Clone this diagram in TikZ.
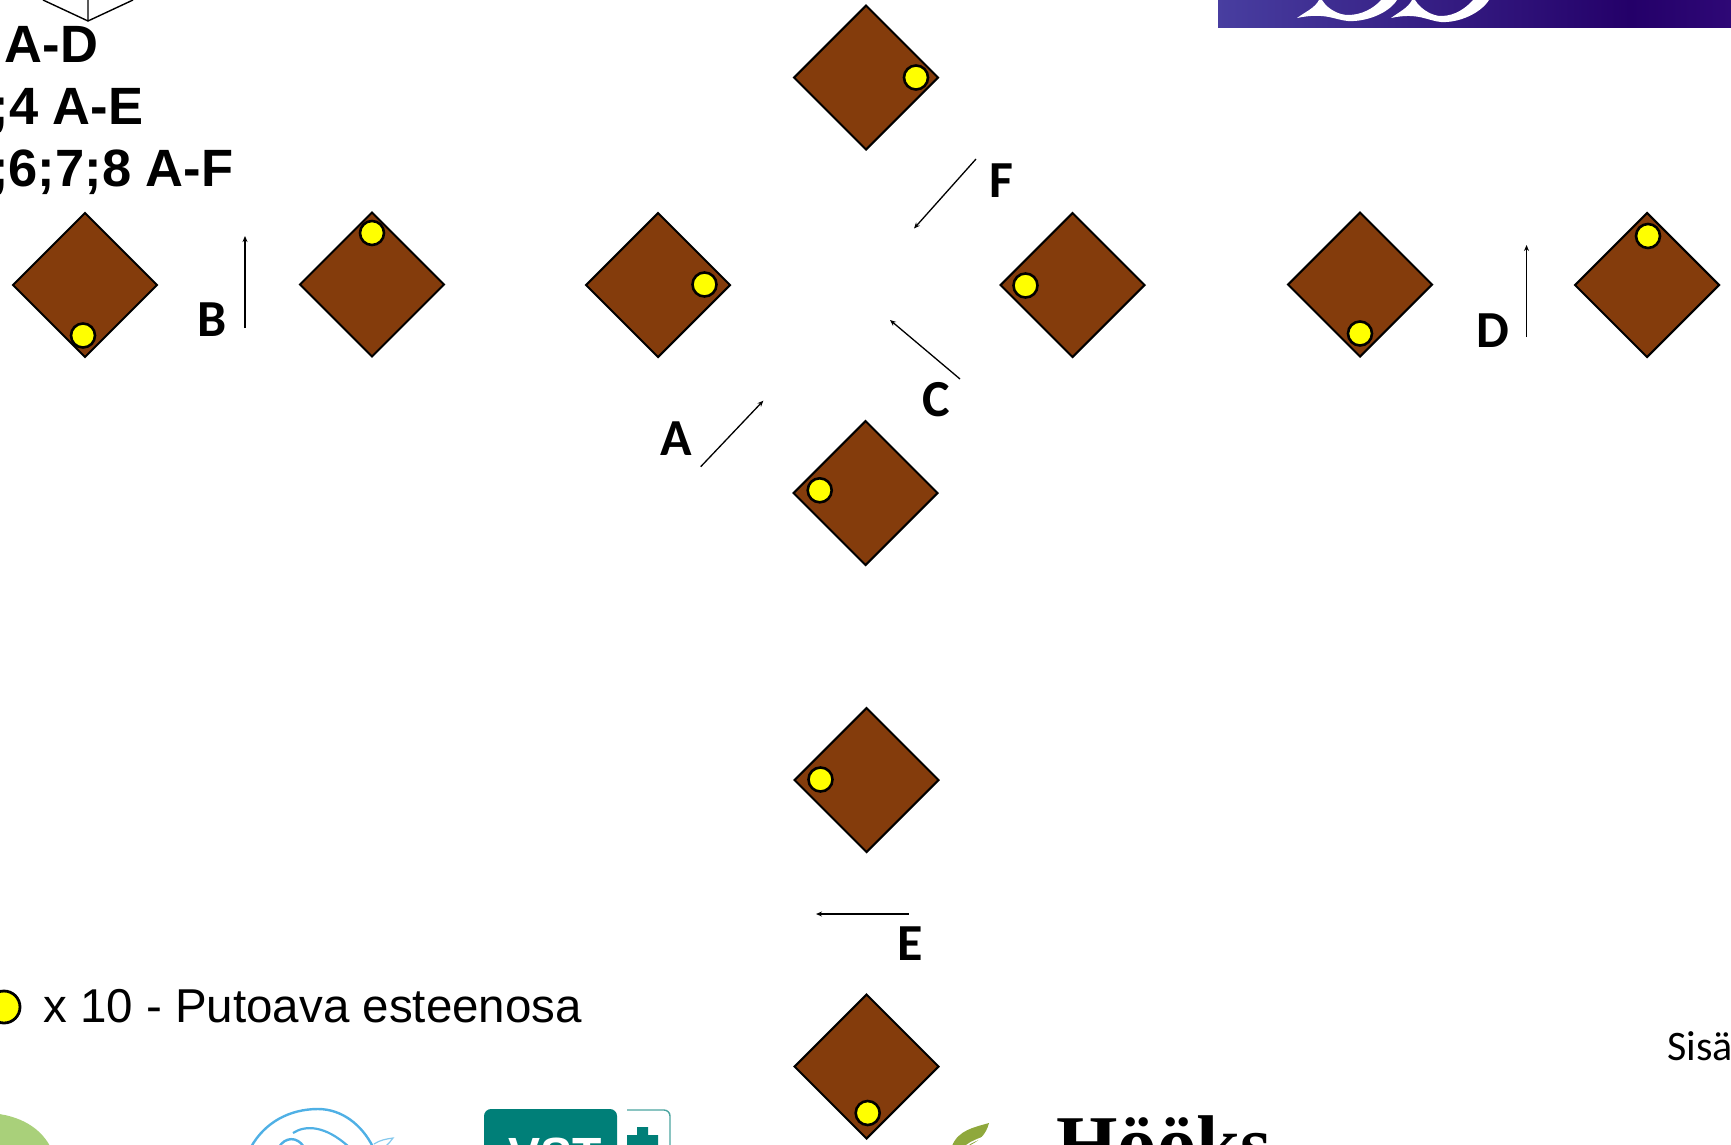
\documentclass[tikz,border=0pt]{standalone}
\usepackage{fontspec}
\setmainfont{Liberation Sans}
\newfontfamily\carlito{Carlito}
\newfontfamily\lserif{Liberation Serif}
\usetikzlibrary{arrows.meta}
\definecolor{brownbox}{HTML}{843C0C}
\definecolor{markyellow}{HTML}{FFFF00}
\definecolor{vstteal}{HTML}{007F78}
\definecolor{logoblue}{HTML}{4FB0E5}
\definecolor{leafgreen}{HTML}{8FA83C}
\definecolor{softgreen}{HTML}{A9D07A}
\definecolor{bannerA}{RGB}{72,62,160}
\definecolor{bannerB}{RGB}{48,20,130}
\definecolor{bannerC}{RGB}{36,0,105}
\definecolor{bannerD}{RGB}{46,8,118}
\tikzset{
  tile/.style={draw=black,line width=2.1pt,fill=brownbox,line join=miter},
  marker/.style={circle,draw=black,line width=2.6pt,fill=markyellow,minimum size=24pt,inner sep=0pt,outer sep=0pt},
  move/.style={draw=black,line width=1.3pt,-{Stealth[length=6pt,width=5pt]}},
  letter/.style={font=\carlito\bfseries\fontsize{52}{52}\selectfont,inner sep=0pt,text=black},
  heading/.style={font=\bfseries\fontsize{52.5}{52.5}\selectfont,inner sep=0pt,anchor=base east,text=black},
}
\newcommand{\tileat}[3]{%
  \coordinate (#1) at (#2,#3);
  \draw[tile] (#2-72,#3) -- (#2,#3-72) -- (#2+72,#3) -- (#2,#3+72) -- cycle;
}
\begin{document}
\begin{tikzpicture}[x=1pt,y=-1pt]
\useasboundingbox (0,0) rectangle (1731,1144);
\clip (0,0) rectangle (1731,1144);
% banner
\shade[left color=bannerA,middle color=bannerB,right color=bannerC] (1218,0) rectangle (1630,27);
\shade[left color=bannerC,right color=bannerD] (1630,0) rectangle (1731,27);
\fill[white] (1297,18) .. controls (1305,12) and (1315,8) .. (1319,0) -- (1322,0) .. controls (1328,10) and (1340,15) .. (1348,15) .. controls (1362,15) and (1374,8) .. (1381,0) -- (1397,0) .. controls (1388,14) and (1365,22) .. (1348,21) .. controls (1335,20) and (1325,12) .. (1297,18) -- cycle;
\fill[white] (1391,18) .. controls (1399,12) and (1408,8) .. (1412,0) -- (1415,0) .. controls (1421,10) and (1433,16) .. (1441,16) .. controls (1455,16) and (1466,8) .. (1473,0) -- (1489,0) .. controls (1480,14) and (1458,23) .. (1441,22) .. controls (1428,21) and (1418,12) .. (1391,18) -- cycle;
% cube
\coordinate (cubeA) at (43,0); \coordinate (cubeB) at (88,0); \coordinate (cubeC) at (133,0); \coordinate (cubeV) at (88,21);
\draw[line width=1.4pt] (cubeA) -- (cubeV) -- (cubeC) (cubeB) -- (cubeV);
% heading
\node[heading] (h1) at (98.5,62) {A-D};
\node[heading] (h2) at (143.5,124) {;4 A-E};
\node[heading] (h3) at (233.5,186) {;6;7;8 A-F};
% tiles
\tileat{t1}{85}{285}
\tileat{t2}{372}{284.5}
\tileat{t3}{658}{285}
\tileat{t4}{1072.5}{285}
\tileat{t5}{1360}{284.5}
\tileat{t6}{1647}{285}
\tileat{t7}{866}{77.5}
\tileat{t8}{865.5}{493}
\tileat{t9}{866.5}{780}
\tileat{t10}{866.5}{1066.5}
% markers
\node[marker] (m1) at (83,335.5) {};
\node[marker] (m2) at (372,233) {};
\node[marker] (m3) at (704.5,284.5) {};
\node[marker] (m4) at (1025.5,285.5) {};
\node[marker] (m5) at (1360,333.5) {};
\node[marker] (m6) at (1648,236) {};
\node[marker] (m7) at (916,77.5) {};
\node[marker] (m8) at (819.7,490.3) {};
\node[marker] (m9) at (820.5,779.5) {};
\node[marker] (m10) at (867.7,1113) {};
% arrows
\coordinate (bS) at (245,328); \coordinate (bE) at (245,236);
\coordinate (dS) at (1526.5,337); \coordinate (dE) at (1526.5,245);
\coordinate (aS) at (700.7,466.7); \coordinate (aE) at (763.3,400.7);
\coordinate (cS) at (960,379); \coordinate (cE) at (890,320);
\coordinate (fS) at (976,159); \coordinate (fE) at (914,228.5);
\coordinate (eS) at (908.5,914); \coordinate (eE) at (816,914);
\draw[move] (bS) -- (bE);
\draw[move] (dS) -- (dE);
\draw[move] (aS) -- (aE);
\draw[move] (cS) -- (cE);
\draw[move] (fS) -- (fE);
\draw[move] (eS) -- (eE);
% letters
\node[letter] (la) at (676.5,438.5) {A};
\node[letter] (lb) at (212,319.5) {B};
\node[letter] (lc) at (936,399.5) {C};
\node[letter] (ld) at (1493,330.5) {D};
\node[letter] (le) at (910,943.5) {E};
\node[letter] (lf) at (1001,180.5) {F};
% legend
\node[circle,draw=black,line width=2.8pt,fill=markyellow,minimum size=32pt,inner sep=0pt] (lm) at (4,1007) {};
\node[anchor=base west,inner sep=0pt,font=\fontsize{47.5}{47.5}\selectfont] (lt) at (43,1022) {x 10 - Putoava esteenosa};
% side text
\node[anchor=base west,inner sep=0pt,font=\carlito\fontsize{42}{42}\selectfont] (sisa) at (1667,1060) {Sisä};
% logos
\fill[softgreen] (-10,1113) .. controls (20,1115) and (42,1128) .. (52,1150) -- (-10,1150) -- cycle;
\draw[logoblue,line width=2.4pt] (251,1147) .. controls (265,1122) and (290,1109) .. (318,1109) .. controls (342,1109) and (362,1125) .. (373,1147);
\draw[logoblue,line width=2.2pt] (293,1133) .. controls (305,1125) and (325,1125) .. (349,1147);
\draw[logoblue,line width=2.4pt] (279,1147) .. controls (285,1137) and (297,1136) .. (304,1147);
\draw[logoblue!70!white,line width=1.2pt] (374,1144) .. controls (380,1140) and (386,1139) .. (393,1138) .. controls (391,1141) and (389,1143) .. (386,1146);
\fill[vstteal,rounded corners=7pt] (484,1109) rectangle (617,1170);
\node[anchor=base,inner sep=0pt,text=white,font=\bfseries\fontsize{48}{48}\selectfont] (vst) at (555,1171) {VST};
\draw[vstteal!70!white,line width=1.4pt,rounded corners=6pt] (627,1110) -- (670,1110) -- (670,1160);
\fill[vstteal] (637,1127) rectangle (648,1150) (627,1135) rectangle (658,1150);
\fill[leafgreen] (952,1146) .. controls (958,1130) and (975,1127) .. (989,1123) .. controls (986,1135) and (978,1142) .. (968,1146) -- cycle;
\draw[white,line width=1.5pt] (966,1146) .. controls (972,1141) and (980,1139) .. (986,1136);
\node[anchor=base west,inner sep=0pt,font=\lserif\bfseries\fontsize{79}{79}\selectfont] (hooks) at (1056,1170) {Hööks};
\end{tikzpicture}
\end{document}
